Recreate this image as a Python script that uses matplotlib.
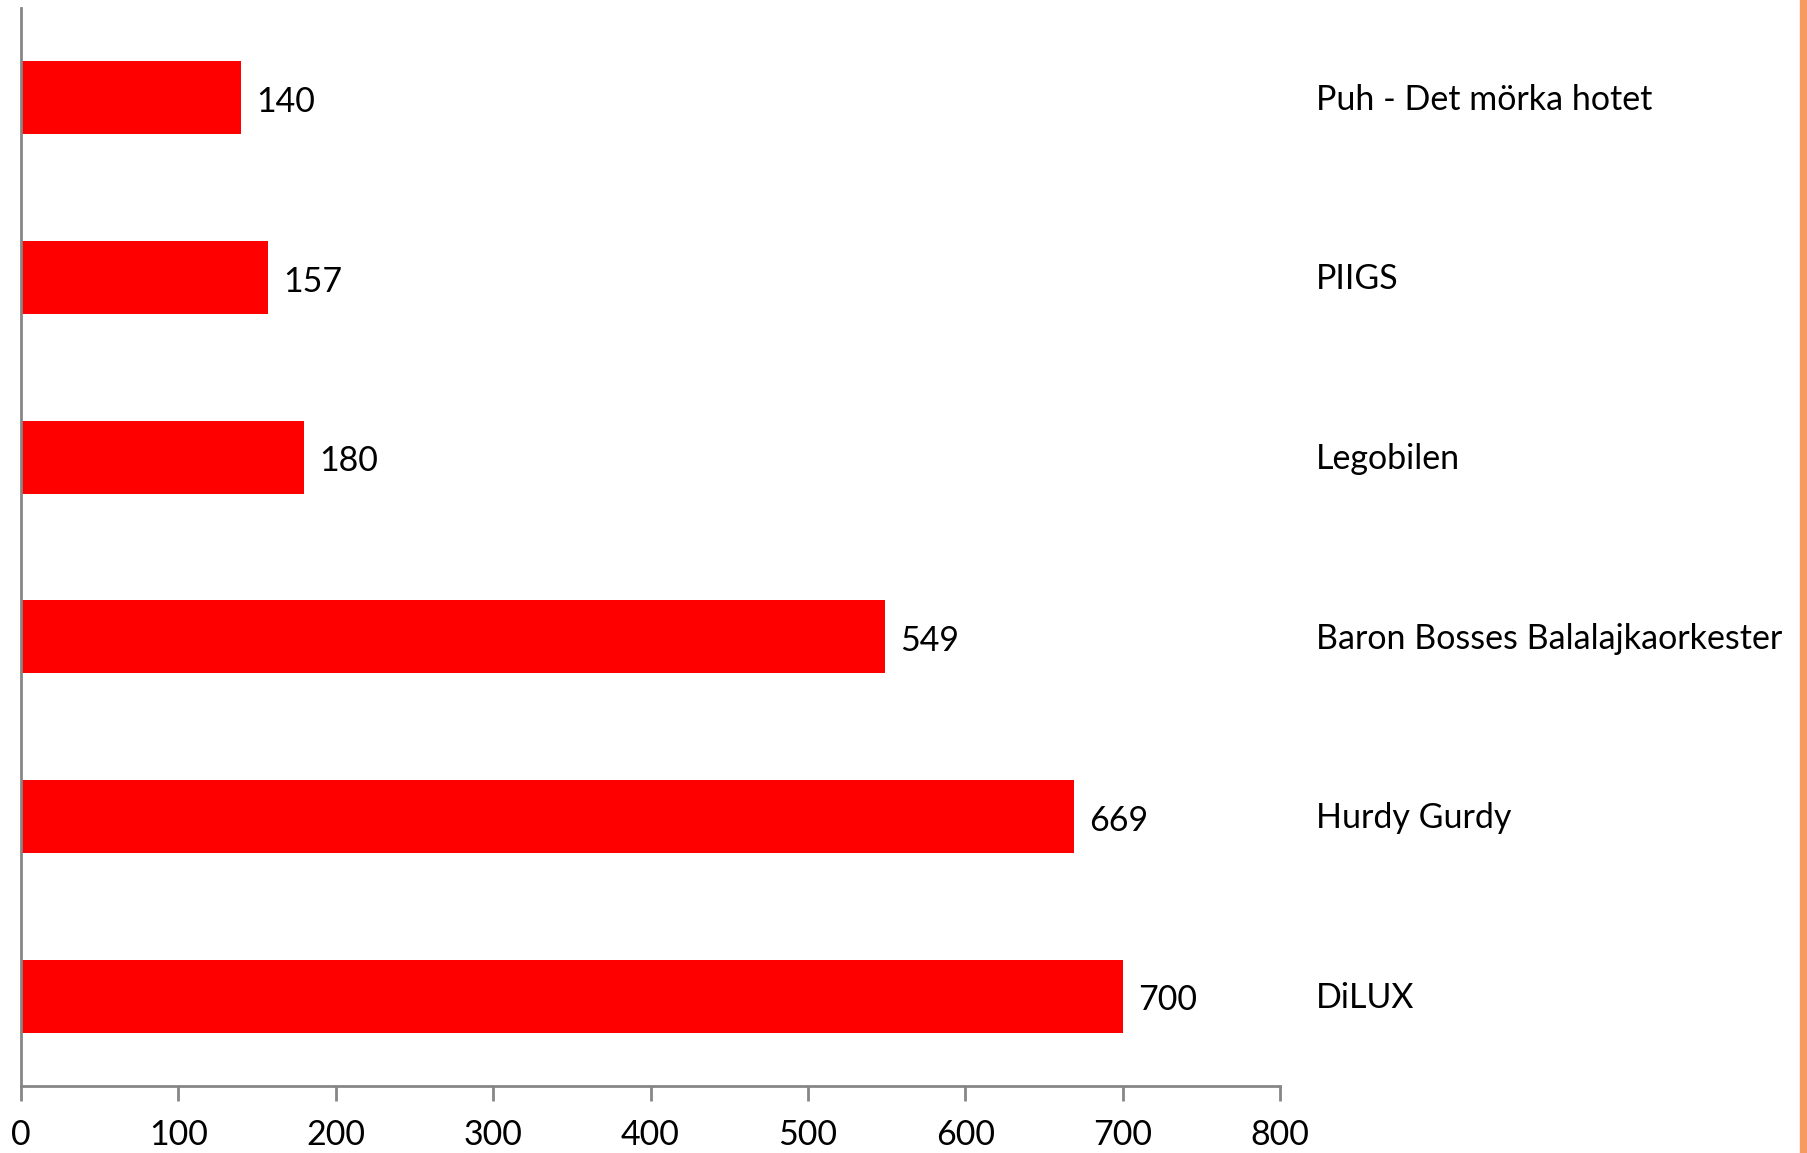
import matplotlib
matplotlib.use('Agg')
import matplotlib.pyplot as plt
import matplotlib.transforms as mtransforms
import numpy as np

plt.rcParams['font.family'] = ['Lato', 'DejaVu Sans']

# data
categories = ['Puh - Det mörka hotet', 'PIIGS', 'Legobilen',
              'Baron Bosses Balalajkaorkester', 'Hurdy Gurdy', 'DiLUX']
values = [140, 157, 180, 549, 669, 700]
x_ticks = [0, 100, 200, 300, 400, 500, 600, 700, 800]

fig = plt.figure(figsize=(18.07, 11.53), dpi=100)
ax = fig.add_axes([21 / 1807, 1 - 1086 / 1153, (1280 - 21) / 1807, (1086 - 8) / 1153])

y = np.arange(len(categories))
bars = ax.barh(y, values, height=0.405, color='#ff0000', edgecolor='none')

ax.set_xlim(0, 800)
ax.set_ylim(len(categories) - 0.5, -0.5)

# value labels
for bar, v in zip(bars, values):
    ax.annotate(f'{v}', xy=(bar.get_width(), bar.get_y() + bar.get_height() / 2),
                xytext=(11, -3), textcoords='offset points',
                ha='left', va='center', fontsize=24.5)

# category labels on the right
trans = mtransforms.blended_transform_factory(fig.transFigure, ax.transData)
offs = mtransforms.ScaledTranslation(0, -2 / 100, fig.dpi_scale_trans)
for yi, name in zip(y, categories):
    fig.text(1316 / 1807, yi, name, transform=trans + offs, ha='left', va='center',
             fontsize=24.5)

ax.set_xticks(x_ticks)
ax.set_xticklabels([str(t) for t in x_ticks], fontsize=24.5)
ax.set_yticks([])
ax.tick_params(axis='x', direction='out', length=11, width=2, color='#868686', pad=13)

for s in ['top', 'right']:
    ax.spines[s].set_visible(False)
for s in ['left', 'bottom']:
    ax.spines[s].set_color('#868686')
    ax.spines[s].set_linewidth(2)

# orange strip on the right edge
fig.patches.append(plt.Rectangle((1800 / 1807, 0), 7 / 1807, 1, transform=fig.transFigure,
                                 color='#f79a61', zorder=5))

fig.savefig('out.png', dpi=100, facecolor='white')
